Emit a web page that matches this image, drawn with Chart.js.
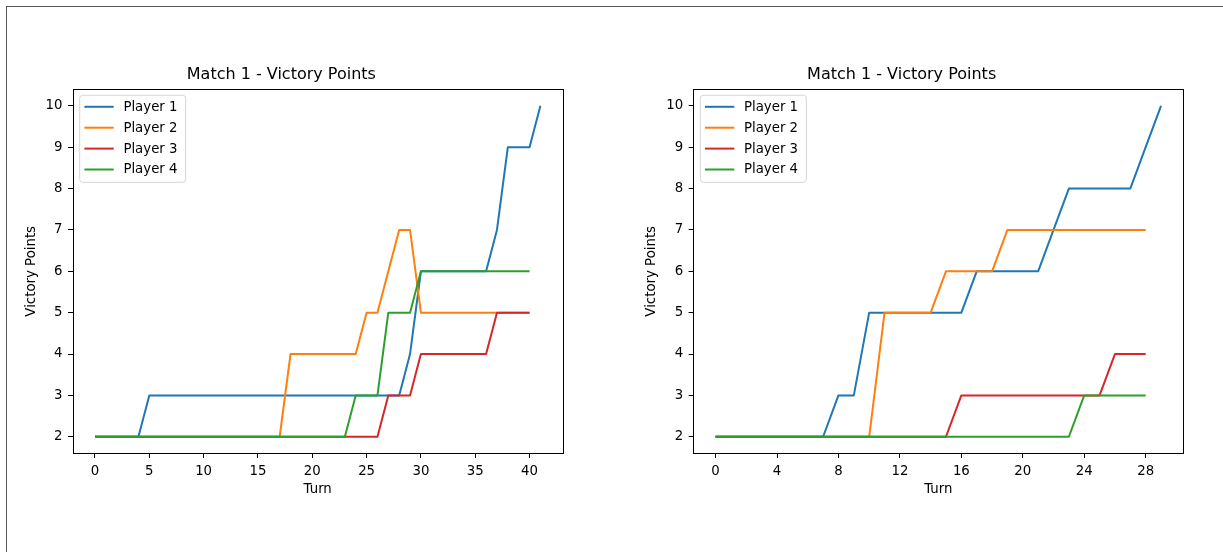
<!DOCTYPE html>
<html>
<head>
<meta charset="utf-8">
<script src="https://cdn.jsdelivr.net/npm/chart.js@4.4.1/dist/chart.umd.min.js"></script>
<style>
body{margin:0;background:#fff;width:1223px;height:552px;overflow:hidden;position:relative}
#frame{position:absolute;left:6px;top:6px;width:1300px;height:600px;border-left:1px solid #555;border-top:1px solid #555}
canvas{position:absolute;top:0}
</style>
</head>
<body>
<div id="frame"></div>
<canvas id="c1" width="602" height="552" style="left:0px"></canvas>
<canvas id="c2" width="602" height="552" style="left:620px"></canvas>
<script>
// victory points per turn, index = turn
var players = ['Player 1', 'Player 2', 'Player 3', 'Player 4']
var colors = ['#1f77b4', '#ff7f0e', '#d62728', '#2ca02c']

var m1p1 = [2,2,2,2,2,3,3,3,3,3,3,3,3,3,3,3,3,3,3,3,3,3,3,3,3,3,3,3,3,4,6,6,6,6,6,6,6,7,9,9,9,10]
var m1p2 = [2,2,2,2,2,2,2,2,2,2,2,2,2,2,2,2,2,2,4,4,4,4,4,4,4,5,5,6,7,7,5,5,5,5,5,5,5,5,5,5,5]
var m1p3 = [2,2,2,2,2,2,2,2,2,2,2,2,2,2,2,2,2,2,2,2,2,2,2,2,2,2,2,3,3,3,4,4,4,4,4,4,4,5,5,5,5]
var m1p4 = [2,2,2,2,2,2,2,2,2,2,2,2,2,2,2,2,2,2,2,2,2,2,2,2,3,3,3,5,5,5,6,6,6,6,6,6,6,6,6,6,6]

var m2p1 = [2,2,2,2,2,2,2,2,3,3,5,5,5,5,5,5,5,6,6,6,6,6,7,8,8,8,8,8,9,10]
var m2p2 = [2,2,2,2,2,2,2,2,2,2,2,5,5,5,5,6,6,6,6,7,7,7,7,7,7,7,7,7,7]
var m2p3 = [2,2,2,2,2,2,2,2,2,2,2,2,2,2,2,2,3,3,3,3,3,3,3,3,3,3,4,4,4]
var m2p4 = [2,2,2,2,2,2,2,2,2,2,2,2,2,2,2,2,2,2,2,2,2,2,2,2,3,3,3,3,3]

var xTicks1 = [0,5,10,15,20,25,30,35,40]
var xTicks2 = [0,4,8,12,16,20,24,28]
var yTicks = [2,3,4,5,6,7,8,9,10]

var titulo = 'Match 1 - Victory Points'
var fonte = 'DejaVu Sans'

const boxAndLegend = {
  id: 'boxAndLegend',
  afterDatasetsDraw(chart) {
    const ctx = chart.ctx
    const a = chart.chartArea
    ctx.save()
    // axes frame
    ctx.strokeStyle = '#000'
    ctx.lineWidth = 1
    ctx.strokeRect(Math.round(a.left) + 0.5, Math.round(a.top) + 0.5, Math.round(a.right) - Math.round(a.left), Math.round(a.bottom) - Math.round(a.top))
    // legend
    const x = a.left + 7, y = a.top + 6
    ctx.beginPath()
    ctx.roundRect(x, y, 106, 87, 3)
    ctx.fillStyle = 'rgba(255,255,255,0.8)'
    ctx.fill()
    ctx.strokeStyle = '#d5d5d5'
    ctx.stroke()
    ctx.font = '13.3px ' + fonte
    ctx.textBaseline = 'middle'
    chart.data.datasets.forEach(function(ds, i){
      const ly = y + 11.5 + i * 20.9
      ctx.beginPath()
      ctx.moveTo(x + 4.7, ly)
      ctx.lineTo(x + 34, ly)
      ctx.strokeStyle = ds.borderColor
      ctx.lineWidth = 2
      ctx.stroke()
      ctx.fillStyle = '#000'
      ctx.fillText(ds.label, x + 43.7, ly + 0.5)
    })
    ctx.restore()
  }
}

function montar(id, series, xTicks, yWidth, padRight){
  var n = 0
  series.forEach(function(s){ if (s.length > n) n = s.length })
  var margem = (n - 1) * 0.05
  var datasets = series.map(function(s, i){
    return {
      label: players[i],
      data: s.map(function(v, t){ return {x: t, y: v} }),
      borderColor: colors[i],
      backgroundColor: colors[i],
      borderWidth: 2,
      pointRadius: 0,
      tension: 0,
      borderJoinStyle: 'round',
      order: 3 - i
    }
  })
  new Chart(document.getElementById(id), {
    type: 'line',
    data: { datasets: datasets },
    options: {
      responsive: false,
      animation: false,
      events: [],
      layout: { padding: { left: 0, right: padRight, top: 0, bottom: 38.7 } },
      plugins: {
        legend: { display: false },
        tooltip: { enabled: false },
        title: {
          display: true,
          text: titulo,
          color: '#000',
          font: { family: fonte, size: 16, weight: 'normal' },
          padding: { top: 65.2, bottom: 4.9 }
        }
      },
      scales: {
        x: {
          type: 'linear',
          min: -margem,
          max: (n - 1) + margem,
          afterBuildTicks: function(scale){ scale.ticks = xTicks.map(function(v){ return {value: v} }) },
          afterFit: function(scale){ scale.height = 60 },
          grid: { drawOnChartArea: false, drawTicks: true, tickLength: 4.7, tickColor: '#000', tickWidth: 1 },
          border: { display: false },
          ticks: { color: '#000', padding: 6, maxRotation: 0, autoSkip: false, font: { family: fonte, size: 13.3 } },
          title: { display: true, text: 'Turn', color: '#000', font: { family: fonte, size: 13.3 }, padding: { top: 0, bottom: 16 } }
        },
        y: {
          type: 'linear',
          min: 1.6,
          max: 10.4,
          afterBuildTicks: function(scale){ scale.ticks = yTicks.map(function(v){ return {value: v} }) },
          afterFit: function(scale){ scale.width = yWidth },
          grid: { drawOnChartArea: false, drawTicks: true, tickLength: 4.7, tickColor: '#000', tickWidth: 1 },
          border: { display: false },
          ticks: { color: '#000', padding: 5.5, autoSkip: false, font: { family: fonte, size: 13.3 } },
          title: { display: true, text: 'Victory Points', color: '#000', font: { family: fonte, size: 13.3 }, padding: { top: 24, bottom: 0 } }
        }
      }
    },
    plugins: [boxAndLegend]
  })
}

montar('c1', [m1p1, m1p2, m1p3, m1p4], xTicks1, 72.7, 39.3)
montar('c2', [m2p1, m2p2, m2p3, m2p4], xTicks2, 73.3, 38.7)
</script>
</body>
</html>
